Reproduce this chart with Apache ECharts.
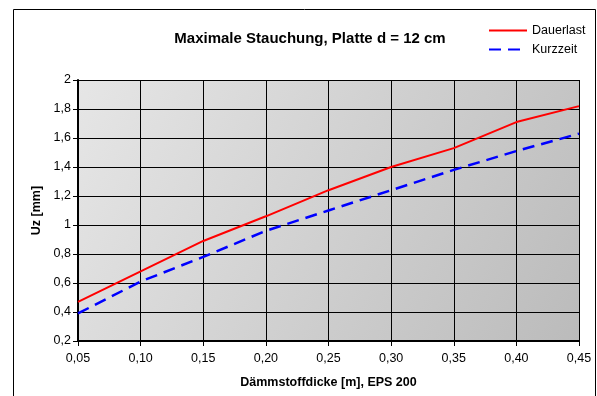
<!DOCTYPE html>
<html lang="de">
<head>
    <meta charset="UTF-8">
    <title>Maximale Stauchung</title>
    <script src="https://cdn.jsdelivr.net/npm/echarts@6/dist/echarts.min.js"></script>
    <style>
        html, body { margin: 0; padding: 0; background: #fff; }
    </style>
</head>
<body>
    <div id="main" style="width: 597px;height:396px;"></div>
</body>

<script>
    var myChart = echarts.init(document.getElementById('main'));
    // Daten
    var dicke = [0.05, 0.10, 0.15, 0.20, 0.25, 0.30, 0.35, 0.40, 0.45];
    var dauerlast = [0.47, 0.68, 0.89, 1.06, 1.24, 1.40, 1.53, 1.71, 1.82];
    var kurzzeit = [0.39, 0.61, 0.78, 0.96, 1.10, 1.24, 1.38, 1.51, 1.63];
    var seriesNames = ['Dauerlast', 'Kurzzeit'];

    var font = '"Liberation Sans", Arial, sans-serif';

    function komma(v) {
        return String(v).replace('.', ',');
    }

    var option = {
        animation: false,
        backgroundColor: '#fff',
        title: {
            text: 'Maximale Stauchung, Platte d = 12 cm',
            left: 305,
            textAlign: 'center',
            top: 26,
            textStyle: {
                color: '#000',
                fontFamily: font,
                fontWeight: 'bold',
                fontSize: 15
            }
        },
        legend: {
            orient: 'vertical',
            left: 488,
            top: 24,
            padding: 0,
            itemWidth: 38,
            itemHeight: 14,
            itemGap: 6,
            data: seriesNames,
            itemStyle: {opacity: 0},
            textStyle: {
                color: '#000',
                fontFamily: font,
                fontSize: 12.5
            }
        },
        grid: {
            left: 78,
            right: 18,
            top: 80,
            bottom: 55,
            show: true,
            borderWidth: 0,
            backgroundColor: new echarts.graphic.LinearGradient(0, 0, 1, 1, [
                {offset: 0, color: '#e6e6e6'},
                {offset: 1, color: '#bbbbbb'}
            ])
        },
        graphic: [{
            type: 'rect',
            shape: {x: 13.5, y: 9.5, width: 582, height: 400},
            style: {fill: 'none', stroke: '#000', lineWidth: 1},
            silent: true,
            z: 100
        }],
        xAxis: {
            type: 'category',
            boundaryGap: false,
            data: dicke.map(function (v) { return komma(v.toFixed(2)); }),
            name: 'Dämmstoffdicke [m], EPS 200',
            nameLocation: 'middle',
            nameGap: 35,
            nameTextStyle: {
                color: '#000',
                fontFamily: font,
                fontWeight: 'bold',
                fontSize: 12.5
            },
            axisLine: {lineStyle: {color: '#000', width: 2}},
            axisTick: {show: true, length: 5, lineStyle: {color: '#000'}},
            axisLabel: {
                color: '#000',
                fontFamily: font,
                fontSize: 12.5,
                margin: 11,
                showMinLabel: true,
                showMaxLabel: true
            },
            splitLine: {show: true, lineStyle: {color: '#000', width: 1}}
        },
        yAxis: {
            type: 'value',
            min: 0.2,
            max: 2,
            interval: 0.2,
            name: 'Uz [mm]',
            nameLocation: 'middle',
            nameGap: 29,
            nameTextStyle: {
                color: '#000',
                fontFamily: font,
                fontWeight: 'bold',
                fontSize: 12.5
            },
            axisLine: {show: true, lineStyle: {color: '#000', width: 2}},
            axisTick: {show: true, length: 5, lineStyle: {color: '#000'}},
            axisLabel: {
                color: '#000',
                fontFamily: font,
                fontSize: 12.5,
                margin: 7,
                formatter: function (v) {
                    return komma(+v.toFixed(1));
                }
            },
            splitLine: {show: true, lineStyle: {color: '#000', width: 1}}
        },
        series: [{
            name: seriesNames[0],
            type: 'line',
            data: dauerlast,
            symbol: 'none',
            lineStyle: {color: '#ff0000', width: 2},
            itemStyle: {color: '#ff0000'}
        }, {
            name: seriesNames[1],
            type: 'line',
            data: kurzzeit,
            symbol: 'none',
            lineStyle: {color: '#0000ff', width: 2.5, type: [12, 7]},
            itemStyle: {color: '#0000ff'}
        }]
    };

    myChart.setOption(option);
</script>
</html>
